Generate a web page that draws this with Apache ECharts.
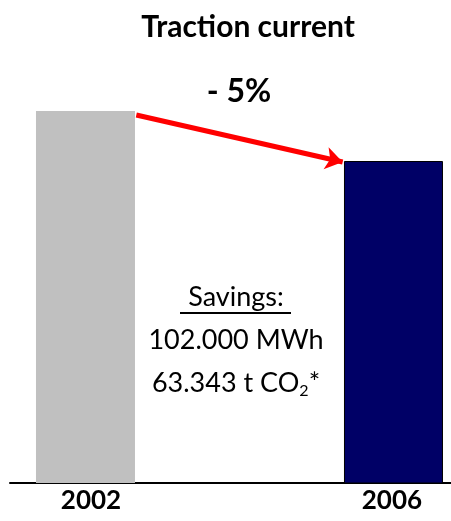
<!DOCTYPE html>
<html>
<head>
<meta charset="utf-8">
<script src="https://cdn.jsdelivr.net/npm/echarts@6/dist/echarts.min.js"></script>
<style>
  html, body { margin: 0; padding: 0; background: #fff; }
  #main { width: 451px; height: 521px; }
</style>
</head>
<body>
<div id="main"></div>
<script>
// 数据
var years = ['2002', '2006'];
var traction = [100, 95]; // 相对值, 2006 = -5%
var barColors = ['#c0c0c0', '#000066'];
var changeLabel = '- 5%';

var FONT = 'Lato, "DejaVu Sans", sans-serif';

var chart = echarts.init(document.getElementById('main'));

var seriesData = traction.map(function (v, i) {
  return {
    value: [i, v],
    itemStyle: {
      color: barColors[i],
      borderColor: i === 1 ? '#000' : barColors[i],
      borderWidth: i === 1 ? 1 : 0,
    },
  };
});

var option = {
  animation: false,
  grid: {
    left: 10,
    right: 0,
    top: 111,
    bottom: 38,
  },
  xAxis: {
    type: 'value',
    min: -0.2451,
    max: 1.1868,
    splitLine: { show: false },
    axisTick: { show: false },
    axisLine: {
      show: true,
      onZero: false,
      lineStyle: { color: '#000', width: 2 },
    },
    axisLabel: {
      // 标签稍微偏移, 跟原图一致
      customValues: [0.018, 0.995],
      formatter: function (v) { return years[Math.round(v)]; },
      color: '#000',
      fontFamily: FONT,
      fontWeight: 'bold',
      fontSize: 26,
      margin: 5,
    },
  },
  yAxis: {
    type: 'value',
    min: 62.8,
    max: 100,
    show: false,
  },
  series: [
    {
      type: 'bar',
      barWidth: 99,
      data: seriesData,
      silent: true,
      markLine: {
        silent: true,
        symbol: ['none', 'arrow'],
        symbolSize: 17,
        label: { show: false },
        lineStyle: { color: '#ff0000', width: 5, type: 'solid' },
        data: [
          [
            { coord: [0.165, traction[0] - 0.4] },
            { coord: [0.835, traction[1] - 0.1] },
          ],
        ],
      },
    },
  ],
  graphic: [
    {
      type: 'text',
      position: [248, 27],
      style: {
        text: 'Traction current',
        font: 'bold 30px ' + FONT,
        fill: '#000',
        textAlign: 'center',
        textVerticalAlign: 'middle',
      },
    },
    {
      type: 'text',
      position: [239, 92],
      style: {
        text: changeLabel,
        font: 'bold 32px ' + FONT,
        fill: '#000',
        textAlign: 'center',
        textVerticalAlign: 'middle',
      },
    },
    {
      type: 'text',
      position: [236, 340],
      style: {
        text: '{t|Savings:}\n{t|102.000 MWh}\n{t|63.343 t CO}{s|2}{t|*}',
        textAlign: 'center',
        textVerticalAlign: 'middle',
        fill: '#000',
        rich: {
          t: { font: '27px ' + FONT, lineHeight: 43, fill: '#000' },
          s: { font: '16px ' + FONT, lineHeight: 43, fill: '#000', padding: [16, 0, 0, 0] },
        },
      },
    },
    {
      type: 'line',
      shape: { x1: 180, y1: 313, x2: 291, y2: 313 },
      style: { stroke: '#000', lineWidth: 2 },
    },
  ],
};

chart.setOption(option);
</script>
</body>
</html>
